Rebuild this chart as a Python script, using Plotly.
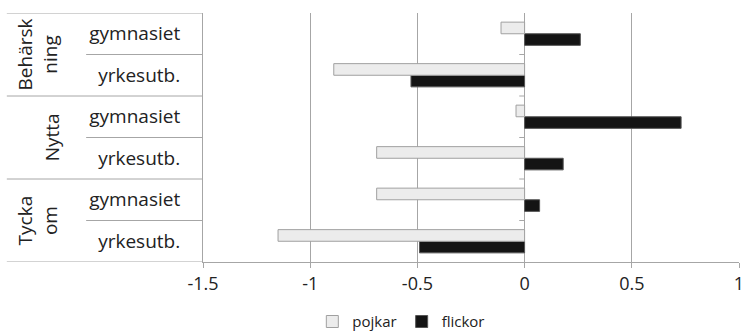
import plotly.graph_objects as go

# Data (bottom to top)
groups = ["Tycka<br>om", "Nytta", "Behärsk<br>ning"]
subcats = ["yrkesutb.", "gymnasiet", "yrkesutb.", "gymnasiet", "yrkesutb.", "gymnasiet"]
pojkar = [-1.15, -0.69, -0.69, -0.04, -0.89, -0.11]
flickor = [-0.49, 0.07, 0.18, 0.73, -0.53, 0.26]

ypos = list(range(len(subcats)))
font = "Open Sans"
grid = "#a6a6a6"

fig = go.Figure()
fig.add_trace(go.Bar(
    y=ypos, x=flickor, orientation="h", name="flickor",
    marker=dict(color="#141414", line=dict(color="#555555", width=1)),
    legendrank=2,
))
fig.add_trace(go.Bar(
    y=ypos, x=pojkar, orientation="h", name="pojkar",
    marker=dict(color="#ececec", line=dict(color="#a0a0a0", width=1)),
    legendrank=1,
))

fig.update_layout(
    width=745, height=332,
    margin=dict(l=203, r=6, t=13, b=70, autoexpand=False),
    paper_bgcolor="white", plot_bgcolor="white",
    barmode="group", bargap=0.44, bargroupgap=0,
    font=dict(family=font, size=18, color="#222222"),
    showlegend=True,
    legend=dict(orientation="h", x=0.37, xanchor="center", y=-0.24, yanchor="middle",
                font=dict(size=15), itemwidth=30, tracegroupgap=0),
    xaxis=dict(range=[-1.5, 1], tickvals=[-1.5, -1, -0.5, 0, 0.5, 1],
               ticktext=["-1.5", "-1", "-0.5", "0", "0.5", "1"],
               showgrid=True, gridcolor=grid, gridwidth=1, zeroline=False,
               showline=True, linecolor=grid, ticks="outside", ticklen=5,
               tickcolor=grid, tickfont=dict(size=18), automargin=False),
    yaxis=dict(range=[-0.5, 5.5], tickvals=ypos, ticktext=subcats,
               showgrid=False, zeroline=False, showline=True, linecolor=grid,
               ticks="outside", ticklen=18, tickcolor="rgba(0,0,0,0)",
               tickfont=dict(size=19), automargin=False),
)

# Table lines on the category axis
for yb in [5.5, 3.5, 1.5, -0.5]:
    fig.add_shape(type="line", xref="paper", yref="y", x0=-0.366, x1=0, y0=yb, y1=yb,
                  line=dict(color=grid, width=1))
for yb in [4.5, 2.5, 0.5]:
    fig.add_shape(type="line", xref="paper", yref="y", x0=-0.218, x1=0, y0=yb, y1=yb,
                  line=dict(color=grid, width=1))
# small ticks on zero axis at category boundaries
for yb in [4.5, 3.5, 2.5, 1.5, 0.5]:
    fig.add_shape(type="line", xref="x", yref="y", x0=-0.025, x1=0, y0=yb, y1=yb,
                  line=dict(color=grid, width=1))

gx = {"Tycka<br>om": -0.308, "Nytta": -0.282, "Behärsk<br>ning": -0.308}
for i, g in enumerate(groups):
    fig.add_annotation(text=g, xref="paper", yref="y", x=gx[g], y=2 * i + 0.5,
                       textangle=-90, showarrow=False, font=dict(size=19),
                       xanchor="center", yanchor="middle")

fig.write_html("out.html")
